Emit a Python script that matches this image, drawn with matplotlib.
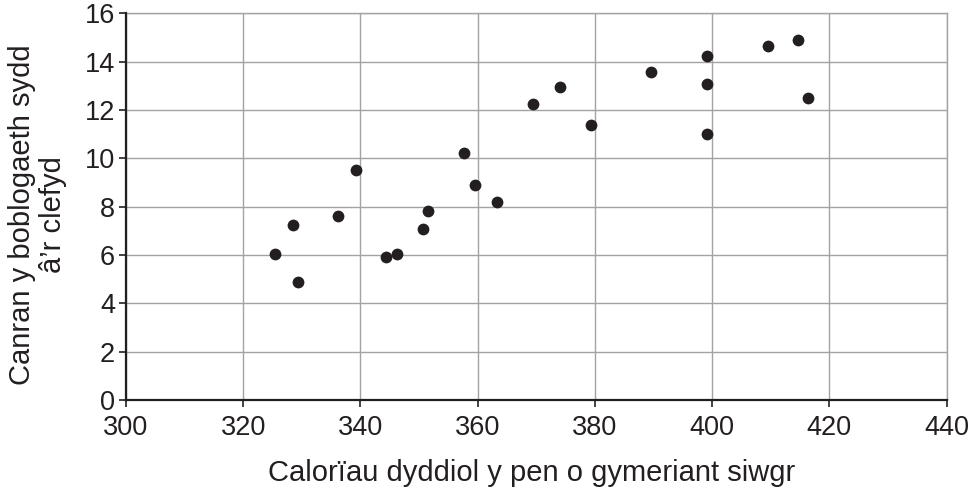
import numpy as np
import matplotlib
matplotlib.use("Agg")
import matplotlib.pyplot as plt

plt.rcParams["font.family"] = ["Liberation Sans", "DejaVu Sans"]

# daily sugar calories per head vs % of population with the disease
CALORIES = [325.4, 328.5, 329.4, 336.2, 339.2, 344.3, 346.2, 350.7, 351.6,
            357.6, 359.5, 363.3, 369.4, 374.1, 379.4, 389.5, 399.2, 399.2,
            399.2, 409.5, 414.6, 416.4]
PERCENT = [6.06, 7.24, 4.88, 7.60, 9.52, 5.92, 6.04, 7.09, 7.82,
           10.20, 8.88, 8.19, 12.25, 12.97, 11.38, 13.57, 14.22, 13.09,
           11.00, 14.63, 14.91, 12.50]

X_TICKS = np.arange(300, 441, 20)
Y_TICKS = np.arange(0, 17, 2)

fig = plt.figure(figsize=(9.73, 4.95), dpi=100)
ax = fig.add_axes([0.1295, 0.1919, 0.8433, 0.7812])

ax.scatter(CALORIES, PERCENT, s=72, color="#231f20", zorder=3, linewidths=0)

ax.set_xlim(300, 440)
ax.set_ylim(0, 16)
ax.set_xticks(X_TICKS)
ax.set_yticks(Y_TICKS)
ax.grid(True, color="#a3a3a3", lw=1.0, zorder=0)
ax.set_axisbelow(True)

for side in ("top", "right"):
    ax.spines[side].set_color("#a3a3a3")
    ax.spines[side].set_linewidth(1.0)
for side in ("left", "bottom"):
    ax.spines[side].set_color("#231f20")
    ax.spines[side].set_linewidth(1.6)
    ax.spines[side].set_zorder(4)

ax.tick_params(axis="both", direction="out", length=5, width=1.2,
               color="#231f20", labelsize=19.5, labelcolor="#231f20")
ax.tick_params(axis="x", pad=6)
ax.tick_params(axis="y", pad=3)

ax.set_xlabel("Calorïau dyddiol y pen o gymeriant siwgr", fontsize=21,
              color="#231f20")
ax.xaxis.set_label_coords(0.494, -0.152)
ax.set_ylabel("Canran y boblogaeth sydd\nâ’r clefyd", fontsize=21,
              color="#231f20", linespacing=1.12)
ax.yaxis.set_label_coords(-0.072, 0.48)

fig.savefig("out.png", dpi=100)
plt.close(fig)
